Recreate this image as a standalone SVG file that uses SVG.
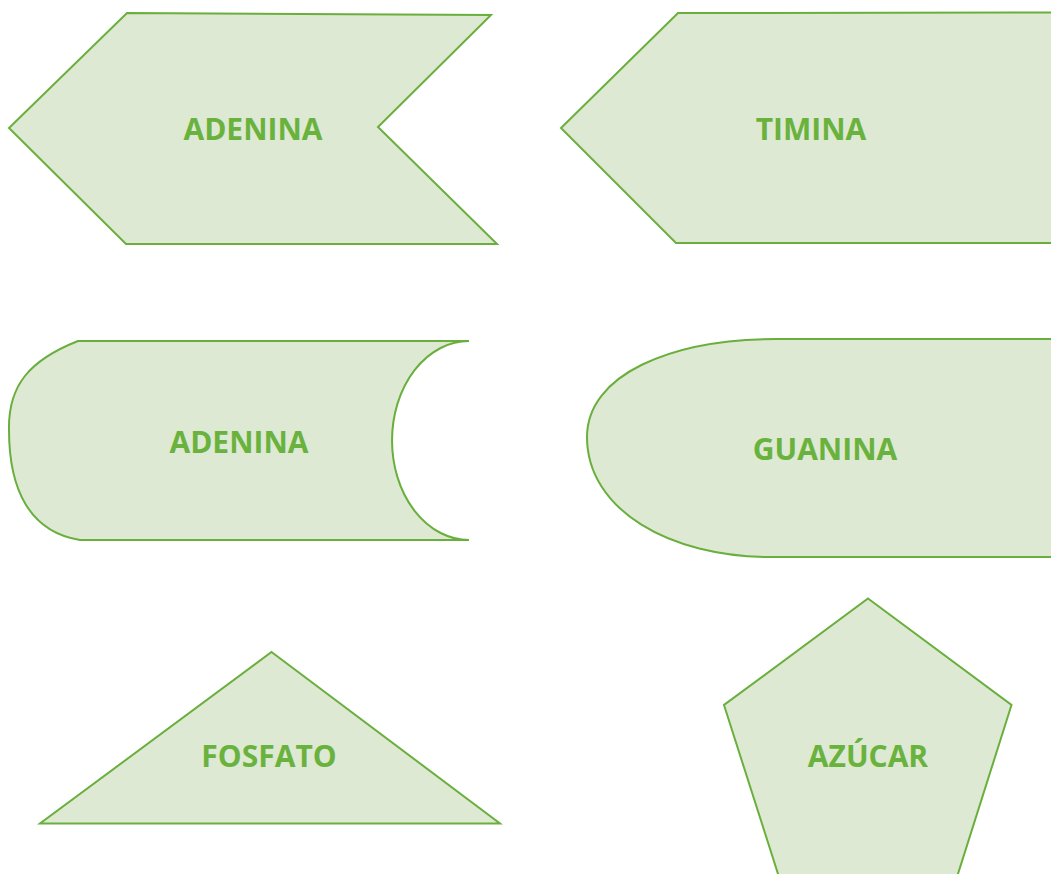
<svg xmlns="http://www.w3.org/2000/svg" width="1051" height="874" viewBox="0 0 1051 874">
<style>
.shape{fill:#dde9d2;stroke:#6aaf3d;stroke-width:2;stroke-linejoin:miter}
.lbl{font-family:"Open Sans","Noto Sans","Liberation Sans",sans-serif;font-weight:bold;font-size:30px;fill:#6ab23e;text-anchor:middle}
</style>
<rect width="1051" height="874" fill="#ffffff"/>
<g id="connectors"/>
<g id="node-adenina-1">
<polygon class="shape" points="127,13 491,15 378,127 497,244 126,244 9,128"/>
<text class="lbl" x="253" y="140">ADENINA</text>
</g>
<g id="node-timina">
<polygon class="shape" points="678,13 1060,12.5 1060,243 676,243 561,128"/>
<text class="lbl" x="811" y="140">TIMINA</text>
</g>
<g id="node-adenina-2">
<path class="shape" d="M78,341 L469,341 A77,99.5 0 0 0 469,540 L80,540 C30,532 9,490 9,430 C8,385 30,360 78,341 Z"/>
<text class="lbl" x="239" y="453">ADENINA</text>
</g>
<g id="node-guanina">
<path class="shape" d="M1060,339 L777,339 C670,339 587,375 587,437 C587,510 670,557 770,557 L1060,557 Z"/>
<text class="lbl" x="825" y="460">GUANINA</text>
</g>
<g id="node-fosfato">
<polygon class="shape" points="271.5,652 500,823.5 40,823.5"/>
<text class="lbl" x="269" y="767">FOSFATO</text>
</g>
<g id="node-azucar">
<polygon class="shape" points="868,598.5 1011.5,705 957,877 779,877 724,705"/>
<text class="lbl" x="868" y="767">AZÚCAR</text>
</g>
</svg>
